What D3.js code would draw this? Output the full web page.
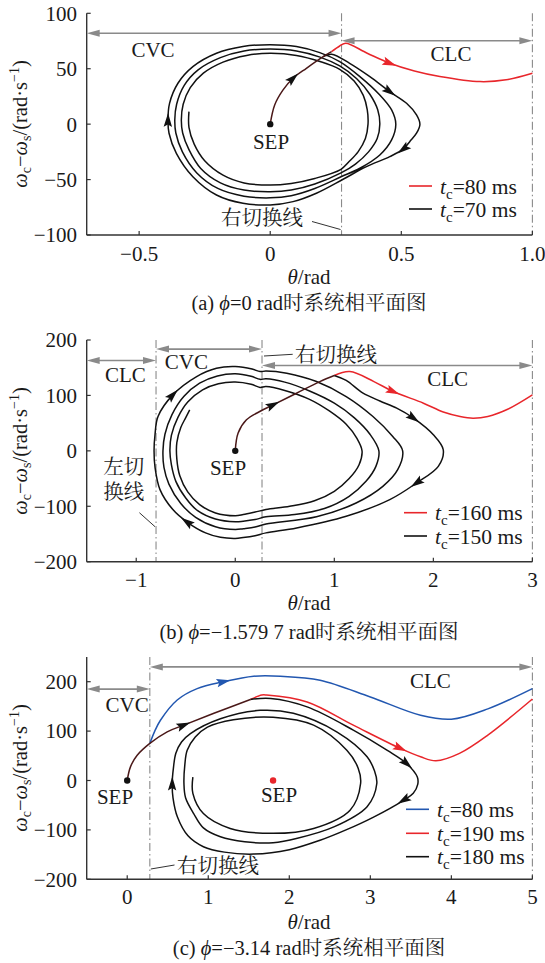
<!DOCTYPE html>
<html><head><meta charset="utf-8">
<script src="https://cdn.jsdelivr.net/npm/d3@7"></script>
<style>
body{margin:0;background:#fff}
svg{display:block}
text{font-family:"Liberation Serif","Times New Roman","Noto Serif CJK SC","Noto Sans CJK SC",serif;fill:#1a1a1a}
</style>
</head><body>
<svg id="chart" width="545" height="963"></svg>
<script>
// ---------------- DATA ----------------
// Panel (a)  phi = 0 rad
const aXTicks = [-0.5, 0, 0.5, 1.0];
const aXTickLabels = ["\u22120.5", "0", "0.5", "1.0"];
const aYTicks = [100, 50, 0, -50, -100];
const aYTickLabels = ["100", "50", "0", "\u221250", "\u2212100"];
const aSwitch = [0.272];
const aCommon = [[0,0],[0.017,17.3],[0.049,30.9],[0.087,41.4],[0.138,50.4],[0.202,60.9],[0.234,65.4]];
const aRed = [[0.234,65.4],[0.265,70.5],[0.288,73],[0.37,64],[0.456,55],[0.55,48],[0.647,43],[0.8,38.4],[0.9,40],[1.0,45.9]];
const aBlack = [[0.202,60.9],[0.234,63.1],[0.303,54.9],[0.38,42.9],[0.456,29.3],[0.52,18.8],[0.558,8.3],[0.571,0],[0.558,-8.2],[0.532,-15.8],[0.507,-22.6],[0.456,-29.3],[0.367,-38.3],[0.278,-49.7],
 [0.176,-62.3],[0.087,-69.9],[0,-72.9],[-0.104,-71.4],[-0.205,-63.9],[-0.295,-47.4],[-0.358,-26.3],[-0.386,-8.2],[-0.39,3.8],[-0.384,18.8],[-0.352,36.9],[-0.295,51.9],[-0.205,64],[-0.104,70],[0,71.7],[0.1,70],[0.189,64.5],[0.265,56.4],
 [0.342,42.9],[0.418,26.3],[0.463,12.8],[0.479,0],[0.463,-14.2],[0.418,-27.8],[0.342,-39.8],[0.27,-47.5],
 [0.17,-58],[0.08,-64.5],[0,-66.5],[-0.1,-65],[-0.2,-58],[-0.28,-44],[-0.335,-25],[-0.36,-8],[-0.364,4],[-0.357,18],[-0.328,35],[-0.275,49],[-0.19,60],[-0.1,66],[0,67.7],[0.1,66],[0.19,60.5],[0.265,52.5],
 [0.33,41],[0.38,27],[0.41,13],[0.418,0],[0.408,-13],[0.375,-25],[0.325,-36],[0.27,-44],
 [0.17,-54],[0.08,-59.5],[0,-61],[-0.1,-59.5],[-0.19,-53],[-0.265,-40],[-0.31,-23],[-0.334,-8],[-0.339,4],[-0.332,18],[-0.305,33],[-0.255,46],[-0.18,56],[-0.09,62],[0,63.9],[0.1,62],[0.19,56.5],[0.265,49.5],
 [0.32,39],[0.355,26],[0.37,13],[0.373,0],[0.363,-13],[0.335,-25],[0.3,-34],[0.27,-40.7],
 [0.17,-49],[0.08,-53.5],[0,-55],[-0.1,-53],[-0.18,-46],[-0.25,-33],[-0.29,-18],[-0.31,-3],[-0.31,11.3]];
const aArrowsCommon = [[0.087,41.4]];
const aArrowsRed = [[0.456,55]];
const aArrowsBlack = [[0.456,29.3],[0.507,-22.6],[-0.39,3.8]];
const aSEP = [[0,0]];
const aLegend = ["80", "70"];

// Panel (b)  phi = -1.5797 rad
const bXTicks = [-1, 0, 1, 2, 3];
const bXTickLabels = ["\u22121", "0", "1", "2", "3"];
const bYTicks = [200, 100, 0, -100, -200];
const bYTickLabels = ["200", "100", "0", "\u2212100", "\u2212200"];
const bSwitch = [-0.8, 0.27];
const bCommon = [[0,0],[0.028,31.9],[0.113,56],[0.247,71],[0.382,83],[0.618,104],[0.854,125],[1.0,136]];
const bRed = [[1.0,136],[1.157,143],[1.4,125],[1.594,107],[1.9,86],[2.1,70],[2.27,62],[2.4,59],[2.55,62],[2.75,75],[3.0,101]];
const bBlack = [[1.0,136],[1.12,127],[1.29,104],[1.46,90],[1.63,77],[1.80,59],[2.0,29],[2.1,2],[2.05,-28],[1.83,-58],[1.56,-88],[1.12,-118],[0.62,-139],[0.31,-148],
 [0.2,-153],[0.08,-156.5],[0,-158],[-0.15,-156],[-0.3,-148],[-0.49,-128],[-0.63,-106],[-0.76,-70],[-0.81,-30],[-0.82,0],[-0.81,30],[-0.78,62],[-0.63,101],[-0.39,134],[-0.19,149],[0,152],[0.17,147.5],[0.25,143],
 [0.31,144],[0.52,140],[0.82,125],[1.12,98],[1.39,62],[1.59,26],[1.69,0],[1.64,-34],[1.49,-64],[1.22,-94],[0.82,-119],[0.31,-132],
 [0.2,-137.5],[0.08,-140.5],[0,-142],[-0.2,-137],[-0.4,-120],[-0.55,-95],[-0.67,-60],[-0.72,-30],[-0.73,0],[-0.71,30],[-0.64,65],[-0.52,98],[-0.36,122],[-0.18,135],[0,139],[0.16,134.5],[0.25,129],
 [0.31,130],[0.5,124],[0.75,108],[1.0,86],[1.2,60],[1.36,30],[1.45,0],[1.42,-28],[1.32,-55],[1.15,-82],[0.9,-104],[0.6,-115],[0.31,-119],
 [0.2,-124],[0.08,-127],[0,-128],[-0.2,-123],[-0.38,-108],[-0.5,-85],[-0.6,-55],[-0.645,-25],[-0.66,0],[-0.645,28],[-0.58,60],[-0.48,88],[-0.33,110],[-0.17,121],[0,124],[0.16,120],[0.25,114.5],
 [0.31,116],[0.5,109],[0.75,93],[0.95,72],[1.12,48],[1.23,22],[1.28,0],[1.25,-25],[1.15,-50],[1.0,-73],[0.8,-90],[0.55,-100],[0.31,-106],
 [0.2,-110.5],[0.08,-115],[0,-117],[-0.2,-112],[-0.36,-97],[-0.48,-74],[-0.56,-45],[-0.59,-15],[-0.59,15],[-0.55,42],[-0.5,60],[-0.46,74]];
const bArrowsCommon = [[0.382,83]];
const bArrowsRed = [[1.594,107]];
const bArrowsBlack = [[1.80,59],[1.83,-58],[-0.63,101],[-0.49,-128]];
const bSEP = [[0,0]];
const bLegend = ["160", "150"];

// Panel (c)  phi = -3.14 rad
const cXTicks = [0, 1, 2, 3, 4, 5];
const cXTickLabels = ["0", "1", "2", "3", "4", "5"];
const cYTicks = [200, 100, 0, -100, -200];
const cYTickLabels = ["200", "100", "0", "\u2212100", "\u2212200"];
const cSwitch = [0.279];
const cCommon = [[0,0],[0.04,27.6],[0.123,51],[0.279,75],[0.493,98.5],[0.698,112],[1.07,136],[1.52,164]];
const cBlue = [[0.279,75],[0.34,100],[0.41,122],[0.617,163],[0.863,186],[1.19,200],[1.56,211],[1.89,211],[2.38,203],[3.0,169],[3.62,132],[4.0,124],[4.45,145],[5.0,186]];
const cRed = [[1.52,164],[1.66,173],[1.72,173],[2.22,159],[2.79,112],[3.37,65],[3.62,48],[3.81,40],[4.1,55],[4.45,92],[5.0,165]];
const cBlack = [[1.52,164],[1.77,166],[2.22,149],[2.79,102],[3.21,61],[3.45,34],[3.58,7],[3.585,-8],[3.53,-26],[3.41,-40],[3.04,-74],[2.7,-100],[2.38,-121],[2.0,-140],[1.56,-149],[1.2,-145],[0.94,-134],[0.75,-112],[0.62,-74],[0.565,-35],[0.555,-6],[0.57,25],[0.6,55],[0.67,78],[0.78,95],[1.15,125],[1.64,142],[2.05,136],[2.59,98],[2.96,48],[3.05,20],[3.08,-6],[2.96,-53],[2.55,-94],[2.1,-117],[1.8,-126],[1.45,-124],[1.15,-114],[0.94,-96],[0.82,-67],[0.72,-35],[0.70,-6],[0.71,30],[0.74,61],[0.84,88],[0.99,108],[1.31,123],[1.80,128],[2.30,112],[2.71,61],[2.85,25],[2.88,-6],[2.75,-60],[2.30,-97],[1.80,-107],[1.27,-97],[0.94,-67],[0.81,-26],[0.81,7]];
const cArrowsCommon = [[0.698,112]];
const cArrowsBlue = [[1.19,200]];
const cArrowsRed = [[3.37,65]];
const cArrowsBlack = [[3.45,34],[3.41,-40],[0.555,-6]];
const cSEP = [[0,0]];
const cSEP2 = [[1.8,0]];
const cLegend = ["80", "190", "180"];

// ---------------- DRAWING ----------------
const svg = d3.select("#chart");
const FS = 21;
const RED = "#e8262b", BLUE = "#2257b0", BLACK = "#111", COMMON = "#4a1818", GRAY = "#8a8a8a";
const lineGen = (x, y) => d3.line().x(d => x(d[0])).y(d => y(d[1])).curve(d3.curveCatmullRom.alpha(0.5));

function yLabel(cy) {
  const t = svg.append("text").attr("transform", `translate(27,${cy}) rotate(-90)`)
    .attr("text-anchor", "middle").attr("font-size", 20.5);
  t.append("tspan").attr("font-style", "italic").text("\u03c9");
  t.append("tspan").attr("font-size", 14).attr("dy", 4).text("c");
  t.append("tspan").attr("dy", -4).text("\u2212");
  t.append("tspan").attr("font-style", "italic").text("\u03c9");
  t.append("tspan").attr("font-size", 14).attr("dy", 4).text("s");
  t.append("tspan").attr("dy", -4).text("/(rad\u00b7s");
  t.append("tspan").attr("font-size", 14).attr("dy", -8).text("\u22121");
  t.append("tspan").attr("dy", 8).text(")");
}

function xLabel(cy) {
  const t = svg.append("text").attr("x", 309).attr("y", cy).attr("dy", "0.35em")
    .attr("text-anchor", "middle").attr("font-size", FS);
  t.append("tspan").attr("font-style", "italic").text("\u03b8");
  t.append("tspan").text("/rad");
}

function caption(cy, letter, phiText) {
  const t = svg.append("text").attr("x", 309).attr("y", cy).attr("dy", "0.35em")
    .attr("text-anchor", "middle").attr("font-size", 20.5);
  t.append("tspan").text(`(${letter}) `);
  t.append("tspan").attr("font-style", "italic").text("\u03d5");
  t.append("tspan").text(`=${phiText} rad\u65f6\u7cfb\u7edf\u76f8\u5e73\u9762\u56fe`);
}

function label(x, y, txt, size) {
  svg.append("text").attr("x", x).attr("y", y).attr("dy", "0.35em")
    .attr("text-anchor", "middle").attr("font-size", size || FS).text(txt);
}

function dblArrow(x1, x2, y) {
  const g = svg.append("g");
  g.append("line").attr("x1", x1 + 6).attr("x2", x2 - 6).attr("y1", y).attr("y2", y)
    .attr("stroke", GRAY).attr("stroke-width", 1.6);
  g.append("path").attr("d", `M${x1},${y}L${x1 + 13},${y - 3.5}L${x1 + 13},${y + 3.5}Z`).attr("fill", GRAY);
  g.append("path").attr("d", `M${x2},${y}L${x2 - 13},${y - 3.5}L${x2 - 13},${y + 3.5}Z`).attr("fill", GRAY);
}

function leader(x1, y1, x2, y2) {
  svg.append("line").attr("x1", x1).attr("y1", y1).attr("x2", x2).attr("y2", y2)
    .attr("stroke", "#333").attr("stroke-width", 1);
}

function legend(items, x0, ys) {
  items.forEach((it, i) => {
    svg.append("line").attr("x1", x0).attr("x2", x0 + 23).attr("y1", ys[i]).attr("y2", ys[i])
      .attr("stroke", it.color).attr("stroke-width", 1.6);
    const t = svg.append("text").attr("x", x0 + 31).attr("y", ys[i]).attr("dy", "0.35em").attr("font-size", 21.5);
    t.append("tspan").attr("font-style", "italic").text("t");
    t.append("tspan").attr("font-size", 15).attr("dy", 5).text("c");
    t.append("tspan").attr("dy", -5).text(`=${it.val} ms`);
  });
}

function panel(cfg) {
  const x = d3.scaleLinear().domain(cfg.xd).range([86.7, 532.4]);
  const y = d3.scaleLinear().domain(cfg.yd).range([cfg.bot, cfg.top]);
  const g = svg.append("g");
  const yTopPix = cfg.axisTop;
  cfg.sw.concat([cfg.xd[1]]).forEach(v => {
    g.append("line").attr("x1", x(v)).attr("x2", x(v)).attr("y1", yTopPix).attr("y2", cfg.bot)
      .attr("stroke", GRAY).attr("stroke-width", 1.1).attr("stroke-dasharray", "8,3,1.5,3");
  });
  g.append("line").attr("x1", 86.7).attr("x2", 532.4).attr("y1", cfg.bot).attr("y2", cfg.bot)
    .attr("stroke", "#333").attr("stroke-width", 1.4);
  g.append("line").attr("x1", 86.7).attr("x2", 86.7).attr("y1", yTopPix).attr("y2", cfg.bot)
    .attr("stroke", "#333").attr("stroke-width", 1.4);
  cfg.xt.forEach((v, i) => {
    g.append("line").attr("x1", x(v)).attr("x2", x(v)).attr("y1", cfg.bot).attr("y2", cfg.bot - 4)
      .attr("stroke", "#333").attr("stroke-width", 1.2);
    g.append("text").attr("x", x(v)).attr("y", cfg.tickY).attr("dy", "0.35em")
      .attr("text-anchor", "middle").attr("font-size", FS).text(cfg.xtl[i]);
  });
  cfg.yt.forEach((v, i) => {
    g.append("line").attr("x1", 86.7).attr("x2", 90.7).attr("y1", y(v)).attr("y2", y(v))
      .attr("stroke", "#333").attr("stroke-width", 1.2);
    g.append("text").attr("x", 77).attr("y", y(v)).attr("dy", "0.35em")
      .attr("text-anchor", "end").attr("font-size", FS).text(cfg.ytl[i]);
  });
  const lg = lineGen(x, y);
  cfg.series.forEach(s => {
    g.append("path").attr("d", lg(s.data)).attr("fill", "none").attr("stroke", s.color)
      .attr("stroke-width", 1.5).attr("stroke-linejoin", "round");
  });
  cfg.series.forEach(s => {
    (s.arrows || []).forEach(pt => {
      let bi = 0, bd = Infinity;
      s.data.forEach((d, i) => { const dd = (d[0] - pt[0]) ** 2 + ((d[1] - pt[1]) / 100) ** 2; if (dd < bd) { bd = dd; bi = i; } });
      const p0 = s.data[Math.max(bi - 1, 0)], p1 = s.data[Math.min(bi + 1, s.data.length - 1)];
      const ang = Math.atan2(y(p1[1]) - y(p0[1]), x(p1[0]) - x(p0[0])) * 180 / Math.PI;
      g.append("path").attr("d", "M7,0L-7,-4.2L-4.5,0L-7,4.2Z").attr("fill", s.arrowColor || s.color)
        .attr("transform", `translate(${x(pt[0])},${y(pt[1])}) rotate(${ang})`);
    });
  });
  (cfg.dots || []).forEach(dt => {
    dt.data.forEach(d => g.append("circle").attr("cx", x(d[0])).attr("cy", y(d[1])).attr("r", 3.2).attr("fill", dt.color));
  });
  return { x, y };
}

// ---- Panel (a)
const pa = panel({ xd: [-0.7, 1.0], yd: [-100, 100], top: 13.3, bot: 235, axisTop: 13.3, tickY: 254,
  xt: aXTicks, xtl: aXTickLabels, yt: aYTicks, ytl: aYTickLabels, sw: aSwitch,
  series: [
    { data: aRed, color: RED, arrows: aArrowsRed },
    { data: aBlack, color: BLACK, arrows: aArrowsBlack },
    { data: aCommon, color: COMMON, arrows: aArrowsCommon, arrowColor: BLACK }
  ],
  dots: [{ data: aSEP, color: BLACK }] });
dblArrow(86.7, pa.x(aSwitch[0]), pa.y(82));
dblArrow(pa.x(aSwitch[0]), 532.4, pa.y(75.3));
label(153, 49.5, "CVC");
label(451, 53.5, "CLC");
label(271, 141.5, "SEP");
label(262, 218, "\u53f3\u5207\u6362\u7ebf", 20.5);
leader(312, 221.5, pa.x(aSwitch[0]) - 1, 229.5);
legend([{ color: RED, val: aLegend[0] }, { color: BLACK, val: aLegend[1] }], 409, [186, 209]);
yLabel(124);
xLabel(277);
caption(303, "a", "0");

// ---- Panel (b)
const pb = panel({ xd: [-1.5, 3], yd: [-200, 200], top: 340, bot: 561.7, axisTop: 340, tickY: 580,
  xt: bXTicks, xtl: bXTickLabels, yt: bYTicks, ytl: bYTickLabels, sw: bSwitch,
  series: [
    { data: bRed, color: RED, arrows: bArrowsRed },
    { data: bBlack, color: BLACK, arrows: bArrowsBlack },
    { data: bCommon, color: COMMON, arrows: bArrowsCommon, arrowColor: BLACK }
  ],
  dots: [{ data: bSEP, color: BLACK }] });
dblArrow(86.7, pb.x(bSwitch[0]), pb.y(163));
dblArrow(pb.x(bSwitch[0]), pb.x(bSwitch[1]), pb.y(183.6));
dblArrow(pb.x(bSwitch[1]), 532.4, pb.y(154));
label(125.4, 375, "CLC");
label(186.4, 362, "CVC");
label(447.7, 378.5, "CLC");
label(228, 468, "SEP");
label(336, 355, "\u53f3\u5207\u6362\u7ebf", 20.5);
leader(pb.x(bSwitch[1]) + 2, 356, 292.7, 354.3);
label(123.7, 466.7, "\u5de6\u5207", 20.5);
label(123.7, 491.7, "\u6362\u7ebf", 20.5);
leader(139.4, 512.7, pb.x(bSwitch[0]) - 1, 526.7);
legend([{ color: RED, val: bLegend[0] }, { color: BLACK, val: bLegend[1] }], 404, [512.7, 536]);
yLabel(451);
xLabel(603);
caption(632, "b", "\u22121.579 7");

// ---- Panel (c)
const pc = panel({ xd: [-0.5, 5], yd: [-200, 200], top: 681.7, bot: 879.3, axisTop: 657, tickY: 897,
  xt: cXTicks, xtl: cXTickLabels, yt: cYTicks, ytl: cYTickLabels, sw: cSwitch,
  series: [
    { data: cBlue, color: BLUE, arrows: cArrowsBlue },
    { data: cRed, color: RED, arrows: cArrowsRed },
    { data: cBlack, color: BLACK, arrows: cArrowsBlack },
    { data: cCommon, color: COMMON, arrows: cArrowsCommon, arrowColor: BLACK }
  ],
  dots: [{ data: cSEP, color: BLACK }, { data: cSEP2, color: RED }] });
dblArrow(86.7, pc.x(cSwitch[0]), pc.y(185));
dblArrow(pc.x(cSwitch[0]), 532.4, pc.y(230));
label(127.2, 705, "CVC");
label(430.3, 681, "CLC");
label(115, 797, "SEP");
label(279, 795, "SEP");
label(218, 866, "\u53f3\u5207\u6362\u7ebf", 20.5);
leader(pc.x(cSwitch[0]) + 1, 869, 174.5, 865);
legend([{ color: BLUE, val: cLegend[0] }, { color: RED, val: cLegend[1] }, { color: BLACK, val: cLegend[2] }], 406, [809.3, 833.3, 856.7]);
yLabel(768);
xLabel(922);
caption(948, "c", "\u22123.14");
</script>
</body></html>
